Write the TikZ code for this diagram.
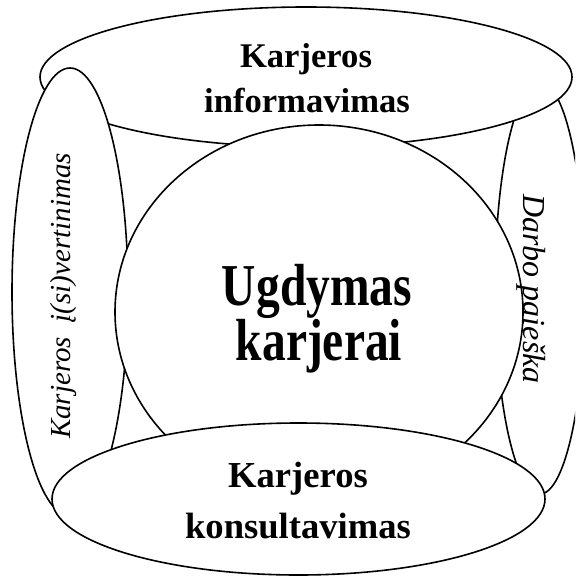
\documentclass[tikz,border=0pt]{standalone}
\usepackage{fontspec}
\setmainfont{Liberation Serif}
\usetikzlibrary{shapes.geometric}
\tikzset{
  oval/.style={ellipse, draw=black, fill=white, line width=1.6pt, inner sep=0pt, outer sep=0pt},
  lbl/.style={anchor=base, inner sep=0pt, font=\bfseries},
  side/.style={anchor=base, inner sep=0pt, font=\itshape\fontsize{29}{34}\selectfont}
}
\begin{document}
\begin{tikzpicture}[x=1pt, y=-1pt]
\useasboundingbox (0,0) rectangle (575,583);
\clip (0,0) rectangle (575,583);
% back to front
\node[oval, minimum width=90pt, minimum height=412pt] (right) at (540,288) {};
\node[oval, minimum width=532pt, minimum height=140pt] (top) at (306,77) {};
\node[oval, minimum width=116pt, minimum height=448pt] (left) at (70,292) {};
\node[oval, minimum width=408pt, minimum height=374pt] (core) at (319,312) {};
\node[oval, minimum width=493pt, minimum height=152pt] (bottom) at (298.5,499) {};
% texts
\node[lbl, font=\bfseries\fontsize{34.6}{40}\selectfont] (t1) at (306,68) {Karjeros};
\node[lbl, font=\bfseries\fontsize{34.6}{40}\selectfont] (t2) at (307,113) {informavimas};
\node[lbl, font=\bfseries\fontsize{36.6}{44}\selectfont] (b1) at (298,487) {Karjeros};
\node[lbl, font=\bfseries\fontsize{36.6}{44}\selectfont] (b2) at (298,538) {konsultavimas};
\node[lbl, font=\bfseries\fontsize{47.5}{55}\selectfont] (c1) at (317,305) {\scalebox{1}[1.25]{Ugdymas}};
\node[lbl, font=\bfseries\fontsize{47.5}{55}\selectfont] (c2) at (319,360) {\scalebox{1}[1.25]{karjerai}};
\node[side, rotate=90] (l1) at (70,296) {Karjeros\ \ į(si)vertinimas};
\node[side, rotate=-90, font=\itshape\fontsize{32}{38}\selectfont] (r1) at (523,289) {Darbo paieška};
\end{tikzpicture}
\end{document}
